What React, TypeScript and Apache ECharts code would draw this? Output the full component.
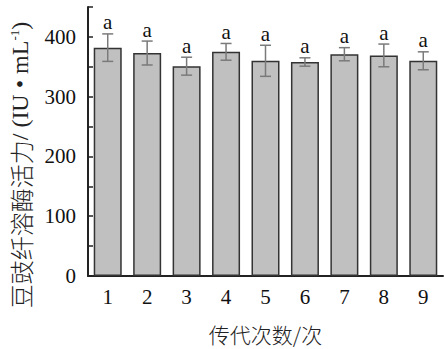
import React, { useEffect, useRef } from "react";
import * as echarts from "echarts";

const categories = ["1", "2", "3", "4", "5", "6", "7", "8", "9"];
const means = [382, 373, 351, 375, 360, 358, 371, 369, 360];
const errors = [23, 20, 15, 14, 26, 7, 11, 19, 15];
const letters = ["a", "a", "a", "a", "a", "a", "a", "a", "a"];
const yTickLabels = ["0", "100", "200", "300", "400"];

const FONT = "'Liberation Serif', 'Times New Roman', 'Noto Sans CJK SC', serif";
const CJK = "'Noto Sans CJK SC', sans-serif";

export default function App() {
  const ref = useRef<HTMLDivElement>(null);
  useEffect(() => {
    if (!ref.current) return;
    const chart = echarts.init(ref.current, undefined, { renderer: "svg" });
    const errData = categories.map((c, i) => [i, means[i], errors[i], letters[i]]);
    chart.setOption({
      animation: false,
      backgroundColor: "#ffffff",
      grid: { left: 88, right: 1, top: 7, bottom: 66 },
      xAxis: {
        type: "category",
        data: categories,
        axisLine: { lineStyle: { color: "#222", width: 2 } },
        axisTick: { inside: true, alignWithLabel: true, length: 5, lineStyle: { color: "#222", width: 1.5 } },
        axisLabel: { color: "#111", fontSize: 21, fontFamily: FONT, margin: 10 },
        name: "传代次数/次",
        nameLocation: "middle",
        nameGap: 47,
        nameTextStyle: { color: "#222", fontSize: 21, fontWeight: 300, fontFamily: CJK },
      },
      yAxis: {
        type: "value",
        min: 0,
        max: 450,
        interval: 50,
        splitLine: { show: false },
        axisLine: { show: true, lineStyle: { color: "#222", width: 2 } },
        axisTick: { show: true, inside: true, length: 5, lineStyle: { color: "#222", width: 1.5 } },
        axisLabel: {
          color: "#111",
          fontSize: 21,
          fontFamily: FONT,
          margin: 12,
          formatter: (v: number) => (yTickLabels.includes(String(v)) ? String(v) : ""),
        },
      },
      graphic: [
        {
          type: "text",
          x: 20,
          y: 165,
          rotation: Math.PI / 2,
          style: {
            text: "{cn|豆豉纤溶酶活力}{lat|/ (IU • mL}{sup|-1}{lat|)}",
            fontSize: 24,
            fontFamily: FONT,
            fill: "#222",
            align: "center",
            verticalAlign: "middle",
            rich: {
              cn: { fontSize: 24, fontWeight: 300, fontFamily: CJK, fill: "#222" },
              lat: { fontSize: 24, fontWeight: "normal", fontFamily: FONT, fill: "#222" },
              sup: { fontSize: 13, fontWeight: "normal", fontFamily: FONT, fill: "#222", padding: [0, 0, 12, 0] },
            },
          },
        },
      ],
      series: [
        {
          type: "bar",
          data: means,
          barWidth: 28,
          itemStyle: { color: "#c0c0c0", borderColor: "#333", borderWidth: 1.5 },
        },
        {
          type: "custom",
          data: errData,
          encode: { x: 0, y: 1 },
          z: 10,
          renderItem: (params: any, api: any) => {
            const x = api.value(0);
            const m = api.value(1);
            const e = api.value(2);
            const top = api.coord([x, m + e]);
            const bot = api.coord([x, m - e]);
            const half = 5.5;
            const st = { stroke: "#7a7a7a", lineWidth: 1.5 };
            return {
              type: "group",
              children: [
                { type: "line", shape: { x1: top[0], y1: top[1], x2: bot[0], y2: bot[1] }, style: st },
                { type: "line", shape: { x1: top[0] - half, y1: top[1], x2: top[0] + half, y2: top[1] }, style: st },
                { type: "line", shape: { x1: bot[0] - half, y1: bot[1], x2: bot[0] + half, y2: bot[1] }, style: st },
                {
                  type: "text",
                  x: top[0],
                  y: top[1] - 1,
                  style: {
                    text: letters[params.dataIndex],
                    fontSize: 21,
                    fontFamily: FONT,
                    fill: "#111",
                    align: "center",
                    verticalAlign: "bottom",
                  },
                },
              ],
            };
          },
        },
      ],
    });
    return () => chart.dispose();
  }, []);
  return <div ref={ref} style={{ position: "absolute", left: 0, top: 0, width: 444, height: 349 }} />;
}
